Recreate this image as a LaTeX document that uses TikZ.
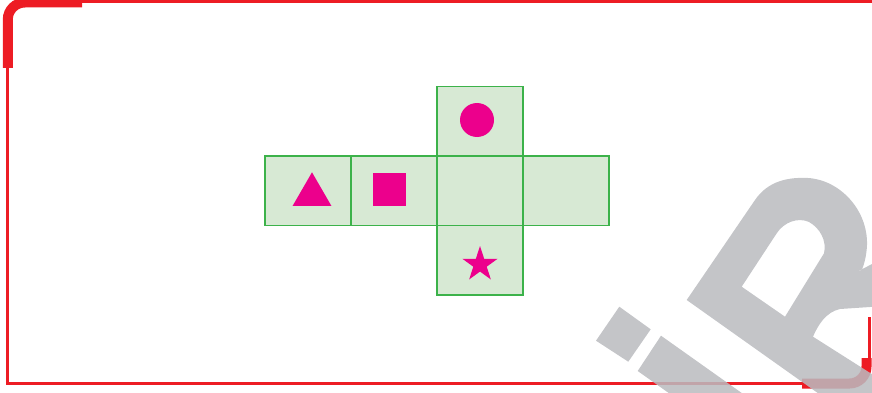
\documentclass[tikz,border=0pt]{standalone}
\usetikzlibrary{shapes.geometric, positioning}
\definecolor{netgreen}{RGB}{60, 178, 74}
\definecolor{netfill}{RGB}{215, 233, 212}
\definecolor{symbmag}{RGB}{236, 0, 140}
\definecolor{framered}{RGB}{237, 28, 36}
\definecolor{wmgrey}{RGB}{186, 187, 191}

\begin{document}
\begin{tikzpicture}[x=1pt, y=-1pt,
  node distance=0pt,
  face/.style={rectangle, draw=netgreen, fill=netfill, line width=1.6pt,
               minimum width=86pt, minimum height=69.5pt, inner sep=0pt, outer sep=0pt},
  symb/.style={fill=symbmag, draw=none, inner sep=0pt, outer sep=0pt},
  tri/.style={symb, regular polygon, regular polygon sides=3, minimum size=44.6pt},
  sq/.style={symb, rectangle, minimum size=33pt},
  dot/.style={symb, circle, minimum size=34pt},
  starsymb/.style={symb, star, star points=5, star point ratio=2.618, minimum size=37pt},
  thinframe/.style={framered, line width=3.2pt},
  thickframe/.style={framered, line width=10pt, rounded corners=17pt}
]
  \useasboundingbox (0,0) rectangle (872,393);
  \clip (0,0) rectangle (872,393);

  % frame
  \draw[thinframe] (82,1.8) -- (872,1.8);
  \draw[thinframe] (7.8,60) -- (7.8,383.5) -- (810,383.5);
  \draw[thinframe] (869.8,317) -- (869.8,370);
  \draw[thickframe] (82,2.5) -- (7.8,2.5) -- (7.8,68);
  \draw[thickframe] (802,383.5) -- (866.5,383.5) -- (866.5,358);

  % cube net
  \node[face] (mid) at (480,190.7) {};
  \node[face, left=of mid] (sqface) {};
  \node[face, left=of sqface] (triface) {};
  \node[face, right=of mid] (blank) {};
  \node[face, above=of mid] (top) {};
  \node[face, below=of mid] (bottom) {};

  \node[tri] (triA) at (312,194.6) {};
  \node[sq] (sqA) at (389.2,189.3) {};
  \node[dot] (dotA) at (477,120) {};
  \node[starsymb] (starA) at (480,264.5) {};

  % watermark
  \begin{scope}[fill=wmgrey, fill opacity=0.86]
    \fill (596,340.7) -- (619.3,306.7) -- (650.7,329.3) -- (628.3,361.7) -- cycle;
    \fill (637.7,371) -- (661,335.7) -- (785,423.7) -- (761.7,459) -- cycle;
    \fill[even odd rule] (686.7,300) -- (755,200)
        .. controls (768,181) and (788,177) .. (808,178)
        .. controls (840,180) and (868,210) .. (867,245)
        .. controls (866.5,256) and (864,265) .. (861.7,270)
        -- (853,274) -- (872,264) -- (890,264) -- (890,420) -- (855.8,420) -- cycle
      (741.7,286.7) -- (776.7,233.3)
        .. controls (784,222) and (798,217) .. (809,222)
        .. controls (820,228) and (827,241) .. (824,253.3) -- (785,316.7) -- cycle
      (813,336.7) .. controls (818,325) and (826,312) .. (840,309)
        -- (885,306) -- (885,382.4) -- cycle;
  \end{scope}
\end{tikzpicture}
\end{document}
